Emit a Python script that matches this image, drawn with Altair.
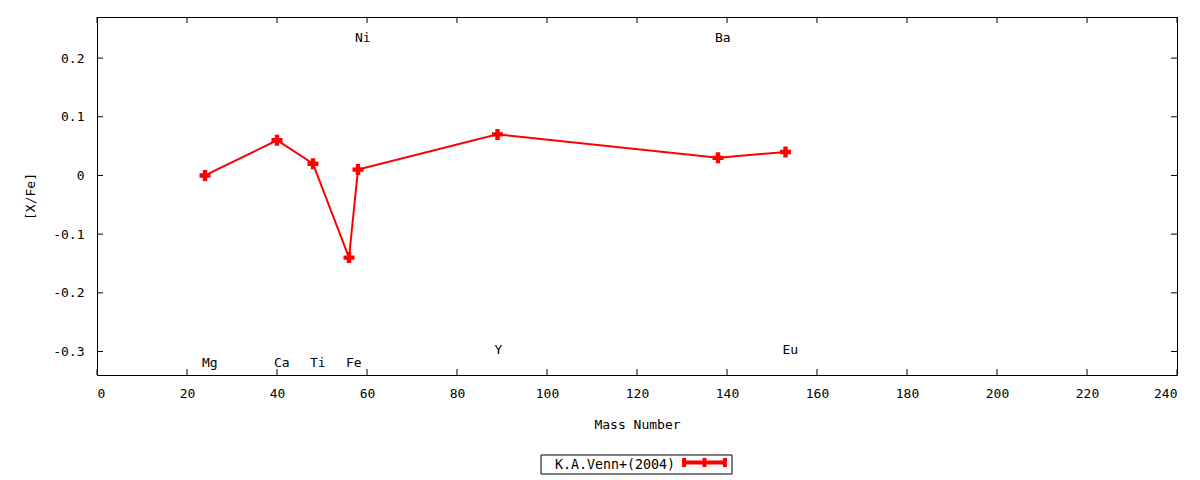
import altair as alt
import pandas as pd

elements = ["Mg", "Ca", "Ti", "Fe", "Ni", "Y", "Ba", "Eu"]
mass_number = [24, 40, 48, 56, 58, 89, 138, 153]
x_fe = [0.0, 0.06, 0.02, -0.14, 0.01, 0.07, 0.03, 0.04]
label_y = [-0.32, -0.32, -0.32, -0.32, 0.235, -0.297, 0.235, -0.297]
series_name = "K.A.Venn+(2004)"

x_ticks = [0, 20, 40, 60, 80, 100, 120, 140, 160, 180, 200, 220, 240]
y_ticks = [-0.3, -0.2, -0.1, 0, 0.1, 0.2]

FONT = "DejaVu Sans Mono"
RED = "#ff0000"
W, H = 1080, 358
TICK = 6

df = pd.DataFrame({
    "element": elements,
    "mass": mass_number,
    "xfe": x_fe,
    "label_y": label_y,
    "series": series_name,
})
xt = pd.DataFrame({"v": x_ticks})
yt = pd.DataFrame({"v": y_ticks})

xscale = alt.Scale(domain=[0, 240], nice=False, zero=False)
yscale = alt.Scale(domain=[-0.34, 0.27], nice=False, zero=False)

axis_common = dict(
    ticks=False, tickSize=0, grid=False, domain=False,
    labelFont=FONT, labelFontSize=13, labelColor="black",
    titleFont=FONT, titleFontSize=13, titleColor="black", titleFontWeight="normal",
)
xaxis = alt.Axis(values=x_ticks, format="d", labelPadding=12, titlePadding=18, **axis_common)
yaxis = alt.Axis(values=y_ticks, labelExpr="'' + datum.value",
                 labelPadding=13, titlePadding=15, **axis_common)


def X(field):
    return alt.X(field, scale=xscale, title="Mass Number", axis=xaxis)


def Y(field):
    return alt.Y(field, scale=yscale, title="[X/Fe]", axis=yaxis)


# gnuplot-style key sample: line with error-bar caps and a cross in the middle
key_symbol = "M-3.8,0H3.8M-3.8,-0.85V0.85M3.8,-0.85V0.85M0,-0.85V0.85"

line = (
    alt.Chart(df)
    .mark_line(
        color=RED, strokeWidth=2,
        point=alt.OverlayMarkDef(shape="cross", size=121, filled=True, color=RED, opacity=1),
    )
    .encode(
        x=X("mass:Q"),
        y=Y("xfe:Q"),
        color=alt.Color(
            "series:N",
            scale=alt.Scale(range=[RED]),
            legend=alt.Legend(
                title=series_name, titleOrient="left",
                titleFont=FONT, titleFontSize=13.3, titleFontWeight="normal",
                titleColor="black", titlePadding=8,
                orient="none", legendX=458, legendY=438,
                symbolType=key_symbol, symbolSize=116,
                symbolStrokeWidth=4, symbolStrokeColor=RED, symbolFillColor=RED,
                symbolOffset=13,
                labelExpr="''", labelOffset=0, labelFontSize=1,
                padding=0,
            ),
        ),
    )
)

# frame around the key
key_box = alt.Chart(df.head(1)).mark_rect(filled=False, stroke="black", strokeWidth=1).encode(
    x=alt.value(444), x2=alt.value(635), y=alt.value(438), y2=alt.value(457))

labels = (
    alt.Chart(df)
    .mark_text(align="left", baseline="middle", dx=-3, font=FONT, fontSize=13, color="black")
    .encode(x=X("mass:Q"), y=Y("label_y:Q"), text="element:N")
)

tick_style = dict(color="black", strokeWidth=1)
bottom_ticks = alt.Chart(xt).mark_rule(**tick_style).encode(
    x=X("v:Q"), y=alt.value(H), y2=alt.value(H - TICK))
top_ticks = alt.Chart(xt).mark_rule(**tick_style).encode(
    x=X("v:Q"), y=alt.value(0), y2=alt.value(TICK))
left_ticks = alt.Chart(yt).mark_rule(**tick_style).encode(
    y=Y("v:Q"), x=alt.value(0), x2=alt.value(TICK))
right_ticks = alt.Chart(yt).mark_rule(**tick_style).encode(
    y=Y("v:Q"), x=alt.value(W), x2=alt.value(W - TICK))

chart = (
    alt.layer(line, labels, bottom_ticks, top_ticks, left_ticks, right_ticks, key_box)
    .properties(
        width=W, height=H,
        autosize=alt.AutoSizeParams(type="none"),
        padding={"left": 89, "top": 9, "right": 15, "bottom": 100},
        background="white",
    )
    .configure_view(stroke="black", strokeWidth=1)
)

chart.save("out.html", embed_options={"renderer": "svg", "actions": False})
